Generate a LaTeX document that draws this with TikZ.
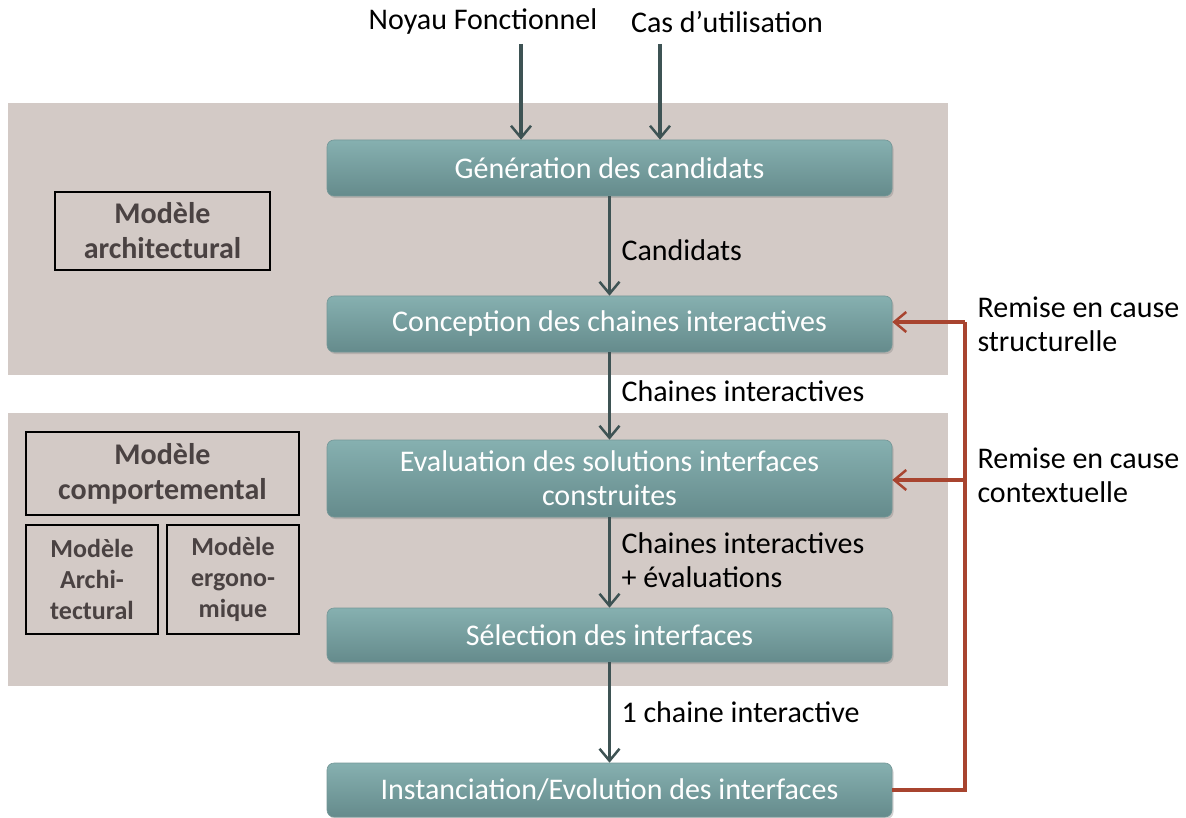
\documentclass[tikz,border=0pt]{standalone}
\usepackage{fontspec}
\setmainfont{Carlito}
\usetikzlibrary{arrows.meta,shadows}
\definecolor{band}{HTML}{D3CAC6}
\definecolor{tealtop}{HTML}{86B0B0}
\definecolor{tealbot}{HTML}{658B8C}
\definecolor{flow}{HTML}{3E5354}
\definecolor{fb}{HTML}{A8442F}
\definecolor{modtxt}{HTML}{4A4242}
\tikzset{
  stepbox/.style={rectangle, rounded corners=7pt, minimum width=565pt, top color=tealtop, bottom color=tealbot, draw=tealbot!90!white, line width=0.6pt, text=white, font=\fontsize{30}{34}\selectfont, align=center, drop shadow={shadow xshift=1.5pt, shadow yshift=-2pt, opacity=0.35}},
  flowarrow/.style={draw=flow, line width=3.5pt, -{Straight Barb[length=12pt,width=20pt,line width=2.5pt]}},
  fbline/.style={draw=fb, line width=3.5pt},
  fbarrow/.style={fbline, -{Straight Barb[length=12pt,width=20pt,line width=2.5pt]}},
  lbl/.style={font=\fontsize{30}{34}\selectfont, text=black, align=left},
  modbox/.style={draw=black, line width=1.3pt, text=modtxt, font=\bfseries\fontsize{30}{35}\selectfont, align=center, inner sep=0pt},
  smallmod/.style={modbox, font=\bfseries\fontsize{26}{31}\selectfont},
}
\begin{document}
\begin{tikzpicture}[x=1pt,y=-1pt]
\useasboundingbox (0,0) rectangle (1186,818);
% bands
\fill[band] (8,103) rectangle (948,375);
\fill[band] (8,413) rectangle (948,686);
% process boxes
\node[stepbox, minimum height=56pt] (gen) at (609.5,168) {Génération des candidats};
\node[stepbox, minimum height=56pt] (conc) at (609.5,324) {Conception des chaines interactives};
\node[stepbox, minimum height=77pt] (eval) at (609.5,478.5) {Evaluation des solutions interfaces\\construites};
\node[stepbox, minimum height=54pt] (sel) at (609.5,635) {Sélection des interfaces};
\node[stepbox, minimum height=54pt] (inst) at (609.5,790) {Instanciation/Evolution des interfaces};
% top inputs
\node[lbl, anchor=center] (noyau) at (483,22) {Noyau Fonctionnel};
\node[lbl, anchor=center] (cas) at (727,22) {Cas d’utilisation};
\coordinate (nin) at (521,44);
\coordinate (cin) at (660,44);
\draw[flowarrow] (nin) -- (nin |- gen.north);
\draw[flowarrow] (cin) -- (cin |- gen.north);
% main flow
\draw[flowarrow] (gen.south) -- (conc.north);
\draw[flowarrow] (conc.south) -- (eval.north);
\draw[flowarrow] (eval.south) -- (sel.north);
\draw[flowarrow] (sel.south) -- (inst.north);
\node[lbl, anchor=west] (l1) at (618,250) {Candidats};
\node[lbl, anchor=west] (l2) at (618,391) {Chaines interactives};
\node[lbl, anchor=west] (l3) at (618,560) {Chaines interactives\\+ évaluations};
\node[lbl, anchor=west] (l4) at (618,712) {1 chaine interactive};
% feedback
\coordinate (fbot) at (965,790);
\coordinate (ftop) at (965,322);
\coordinate (fmid) at (965,480);
\draw[fbline] (inst.east |- fbot) -- (fbot) -- (ftop);
\draw[fbarrow] (ftop) -- (conc.east |- ftop);
\draw[fbarrow] (fmid) -- (eval.east |- fmid);
\node[lbl, anchor=west] (r1) at (974,324) {Remise en cause\\structurelle};
\node[lbl, anchor=west] (r2) at (974,475) {Remise en cause\\contextuelle};
% model boxes
\node[modbox, minimum width=215pt, minimum height=78pt] (archi) at (162.5,231) {Modèle\\architectural};
\node[modbox, minimum width=273pt, minimum height=83pt] (comp) at (162.5,473.5) {Modèle\\comportemental};
\node[smallmod, minimum width=132pt, minimum height=109pt] (march) at (92,579.5) {Modèle\\Archi-\\tectural};
\node[smallmod, minimum width=132pt, minimum height=109pt] (merg) at (233,579.5) {Modèle\\ergono-\\mique};
\end{tikzpicture}
\end{document}
